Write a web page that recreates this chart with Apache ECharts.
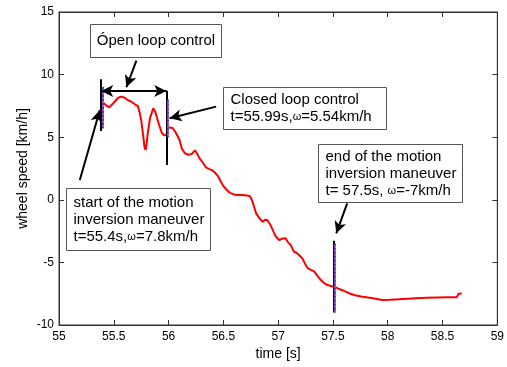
<!DOCTYPE html>
<html><head><meta charset="utf-8">
<script src="https://cdn.jsdelivr.net/npm/echarts@6/dist/echarts.min.js"></script>
<style>html,body{margin:0;padding:0;background:#fff}#c{width:507px;height:367px}</style>
</head><body><div id="c"></div>
<script>
// time [s]
const timeS = [55.40,55.43,55.46,55.50,55.54,55.57,55.60,55.63,55.66,55.69,55.72,55.735,55.75,55.77,55.78,55.79,55.80,55.81,55.83,55.86,55.88,55.90,55.92,55.94,55.96,55.98,55.99,56.00,56.04,56.07,56.10,56.12,56.15,56.18,56.21,56.24,56.26,56.28,56.31,56.34,56.37,56.40,56.42,56.45,56.48,56.50,56.53,56.56,56.59,56.62,56.66,56.70,56.74,56.76,56.78,56.80,56.83,56.86,56.88,56.90,56.93,56.96,56.98,57.01,57.04,57.07,57.09,57.115,57.13,57.145,57.17,57.19,57.22,57.245,57.27,57.30,57.33,57.36,57.39,57.42,57.45,57.48,57.51,57.55,57.58,57.615,57.66,57.70,57.77,57.85,57.95,58.02,58.10,58.18,58.25,58.35,58.45,58.55,58.63,58.645,58.675];
// wheel speed [km/h]
const speed = [7.76,7.55,7.39,7.75,8.15,8.24,8.15,7.95,7.84,7.65,7.49,7.0,6.37,5.0,4.2,3.98,4.5,5.31,6.5,7.31,7.0,6.37,5.8,5.31,5.15,5.18,5.54,5.79,5.71,5.3,4.78,4.1,3.71,3.6,3.65,3.95,3.7,3.35,3.0,2.6,2.45,2.35,2.2,1.9,1.4,1.1,0.8,0.55,0.45,0.38,0.38,0.37,0.30,0.0,-0.55,-1.1,-1.48,-1.75,-1.6,-1.61,-2.01,-2.6,-2.95,-3.21,-3.1,-3.08,-3.4,-3.61,-3.9,-4.15,-4.25,-4.41,-4.67,-5.1,-5.47,-5.6,-5.74,-6.1,-6.41,-6.65,-6.81,-6.88,-6.94,-7.1,-7.2,-7.34,-7.5,-7.62,-7.74,-7.85,-8.0,-7.98,-7.95,-7.9,-7.87,-7.83,-7.8,-7.79,-7.79,-7.52,-7.47];
const xTicks = [55,55.5,56,56.5,57,57.5,58,58.5,59];
const yTicks = [-10,-5,0,5,10,15];

// annotation lines in data units: [t1,v1,t2,v2]
const markerLines = [[55.385,9.62,55.385,5.5],[55.979,8.71,55.979,2.78],[57.505,-3.27,57.505,-9.0]];
const colorMarks = [[55.40,9.0,55.40,5.7],[55.994,8.0,55.994,5.0],[57.52,-3.5,57.52,-9.0]];
const arrows = [[55.706,11.11,55.615,8.99],[56.434,7.44,56.009,6.51],[57.63,-0.28,57.53,-2.68],[55.19,1.58,55.373,7.17]];
const doubleArrow = [55.385,8.7,55.979,8.7];

const chart = echarts.init(document.getElementById('c'));
const FONT = 'Liberation Sans, Arial, sans-serif';
const pts = timeS.map((t,i)=>[t,speed[i]]);
const toML = a => [{coord:[a[0],a[1]]},{coord:[a[2],a[3]]}];

const axisCommon = () => ({
  axisLine:{onZero:false,lineStyle:{color:'#333',width:1}},
  axisTick:{inside:true,length:5,lineStyle:{color:'#333'}},
  splitLine:{show:false}
});
chart.setOption({
  animation:false,
  backgroundColor:'#fff',
  grid:{left:59,right:8,top:12,bottom:42,show:true,borderColor:'#333',borderWidth:1},
  xAxis:[
    Object.assign({type:'value',min:55,max:59,interval:0.5,
      name:'time [s]',nameLocation:'middle',nameGap:22,nameMoveOverlap:false,
      nameTextStyle:{fontFamily:FONT,fontSize:14,color:'#000'},
      axisLabel:{fontFamily:FONT,fontSize:12,color:'#000',margin:6,
        formatter:v=>xTicks.includes(v)?String(v):''}},axisCommon()),
    Object.assign({type:'value',min:55,max:59,interval:0.5,position:'top',axisLabel:{show:false}},axisCommon())
  ],
  yAxis:[
    Object.assign({type:'value',min:-10,max:15,interval:5,
      name:'wheel speed [km/h]',nameLocation:'middle',nameGap:29,nameMoveOverlap:false,
      nameTextStyle:{fontFamily:FONT,fontSize:14,color:'#000'},
      axisLabel:{fontFamily:FONT,fontSize:12,color:'#000',margin:5,
        formatter:v=>yTicks.includes(v)?String(v):''}},axisCommon()),
    Object.assign({type:'value',min:-10,max:15,interval:5,position:'right',axisLabel:{show:false}},axisCommon())
  ],
  series:[
    {type:'line',data:pts,showSymbol:false,lineStyle:{color:'#ff0000',width:2},z:3},
    {type:'line',data:[],silent:true,z:4,
      markLine:{silent:true,symbol:['none','none'],label:{show:false},animation:false,
        lineStyle:{color:'#000',width:2,type:'solid'},
        data:markerLines.map(toML)}},
    {type:'line',data:[],silent:true,z:5,
      markLine:{silent:true,symbol:['none','none'],label:{show:false},animation:false,
        lineStyle:{color:'#3344cc',width:2,type:[2,2]},
        data:colorMarks.map(toML)}},
    {type:'line',data:[],silent:true,z:5,
      markLine:{silent:true,symbol:['none','none'],label:{show:false},animation:false,
        lineStyle:{color:'#cc44aa',width:2,type:[2,2],dashOffset:2},
        data:colorMarks.map(toML)}},
    {type:'line',data:[],silent:true,z:6,
      markLine:{silent:true,symbol:['none','arrow'],symbolSize:[9,12],label:{show:false},animation:false,
        lineStyle:{color:'#000',width:2,type:'solid'},
        data:arrows.map(toML)}},
    {type:'line',data:[],silent:true,z:6,
      markLine:{silent:true,symbol:['arrow','arrow'],symbolSize:[9,12],label:{show:false},animation:false,
        lineStyle:{color:'#000',width:2,type:'solid'},
        data:[toML(doubleArrow)]}}
  ]
});

function box(x,y,w,h,lines,center){
  const rich={w:{fontFamily:FONT,fontSize:11,fill:'#000'}};
  return {type:'group',z:100,children:[
    {type:'rect',shape:{x:x,y:y,width:w,height:h},style:{fill:'#fff',stroke:'#555',lineWidth:1}},
    {type:'text',x:center?x+w/2:x+7,y:y+h/2,style:{text:lines.join('\n'),fontFamily:FONT,fontSize:15,lineHeight:17,
      fill:'#000',align:center?'center':'left',verticalAlign:'middle',rich:rich}}
  ]};
}
chart.setOption({graphic:[
  box(90.5,24.5,131,33,['Ópen loop control'],true),
  box(223.5,87.5,163,42,['Closed loop control','t=55.99s,{w|ω}=5.54km/h'],false),
  box(318.5,144.5,144,58,['end of the motion','inversion maneuver','t= 57.5s, {w|ω}=-7km/h'],false),
  box(66.5,188.5,144,62,['start of the motion','inversion maneuver','t=55.4s,{w|ω}=7.8km/h'],false)
]});
</script></body></html>
